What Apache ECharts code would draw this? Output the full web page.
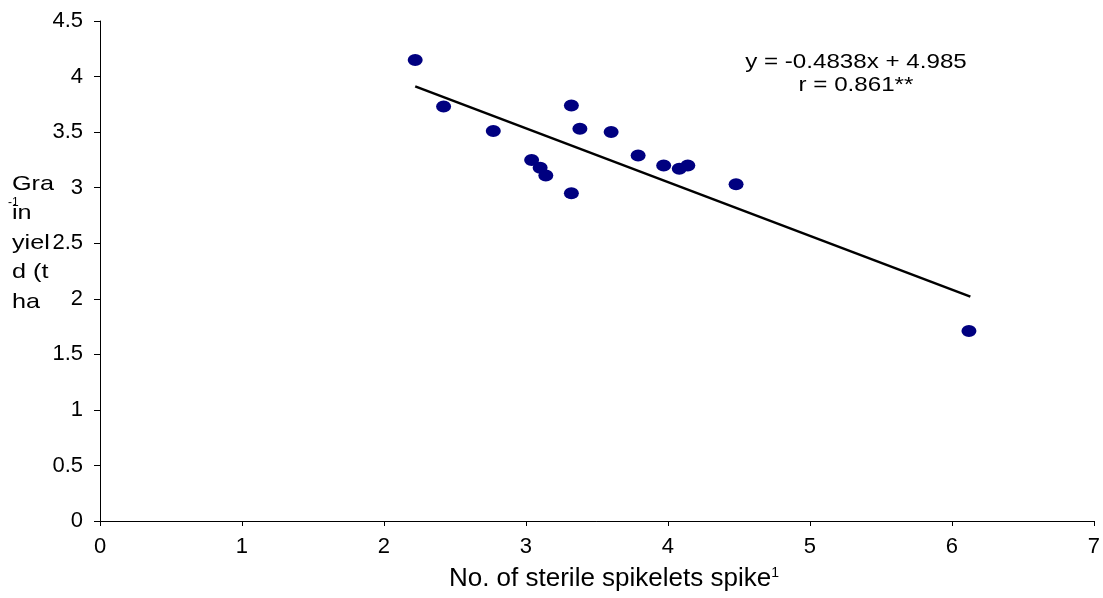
<!DOCTYPE html>
<html>
<head>
<meta charset="utf-8">
<script src="https://cdn.jsdelivr.net/npm/echarts@6/dist/echarts.min.js"></script>
<style>
  html, body { margin: 0; padding: 0; background: #fff; }
  #chart { width: 1103px; height: 598px; }
</style>
</head>
<body>
<div id="chart"></div>
<script>
// sterile spikelets per spike vs grain yield
const sterileSpikelets = [2.22, 2.42, 2.77, 3.04, 3.10, 3.14, 3.32, 3.38, 3.60, 3.32, 3.79, 3.97, 4.08, 4.14, 4.48, 6.12];
const grainYield = [4.15, 3.73, 3.51, 3.25, 3.18, 3.11, 3.74, 3.53, 3.50, 2.95, 3.29, 3.20, 3.17, 3.20, 3.03, 1.71];
const slope = -0.4838;
const intercept = 4.985;
const trendRange = [2.22, 6.13];

const font = '"Liberation Sans", Arial, sans-serif';

const chart = echarts.init(document.getElementById('chart'));

const points = sterileSpikelets.map((x, i) => [x, grainYield[i]]);
const trend = trendRange.map(x => [x, slope * x + intercept]);

chart.setOption({
  animation: false,
  grid: { left: 100, right: 6, top: 21, bottom: 77 },
  xAxis: {
    type: 'value',
    min: 0, max: 7, interval: 1,
    axisLine: { show: true, onZero: false, lineStyle: { color: '#000', width: 1 } },
    axisTick: { show: true, length: 5, lineStyle: { color: '#000' } },
    splitLine: { show: false },
    axisLabel: { color: '#000', fontSize: 22, fontFamily: font, margin: 15 },
    name: '{t|No. of sterile spikelets spike}{s|1}',
    nameLocation: 'middle',
    nameGap: 45,
    nameTextStyle: {
      padding: [0, 0, 0, 34],
      rich: {
        t: { color: '#000', fontSize: 26, fontFamily: font },
        s: { color: '#000', fontSize: 14, fontFamily: font, verticalAlign: 'top', padding: [0, 0, 11, 0] }
      }
    }
  },
  yAxis: {
    type: 'value',
    min: 0, max: 4.5, interval: 0.5,
    axisLine: { show: true, lineStyle: { color: '#000', width: 1 } },
    axisTick: { show: true, length: 6, lineStyle: { color: '#000' } },
    splitLine: { show: false },
    axisLabel: { color: '#000', fontSize: 22, fontFamily: font, margin: 17 }
  },
  graphic: [
    {
      type: 'text', x: 12, y: 169, scaleX: 1.2,
      style: { text: 'Gra\nin\nyiel\nd (t\nha', fill: '#000', font: '21px ' + font, lineHeight: 29.5 }
    },
    {
      type: 'text', x: 8, y: 197,
      style: { text: '-1', fill: '#000', font: '12px ' + font }
    },
    {
      type: 'text', x: 856, y: 51, scaleX: 1.15,
      style: { text: 'y = -0.4838x + 4.985\nr = 0.861**', fill: '#000', font: '21px ' + font, align: 'center', lineHeight: 23 }
    }
  ],
  series: [
    {
      type: 'line',
      data: trend,
      symbol: 'none',
      lineStyle: { color: '#000', width: 2.5 },
      z: 2
    },
    {
      type: 'scatter',
      data: points,
      symbol: 'circle',
      symbolSize: [15, 12],
      itemStyle: { color: '#000080', opacity: 1 },
      z: 3
    }
  ]
});
</script>
</body>
</html>
